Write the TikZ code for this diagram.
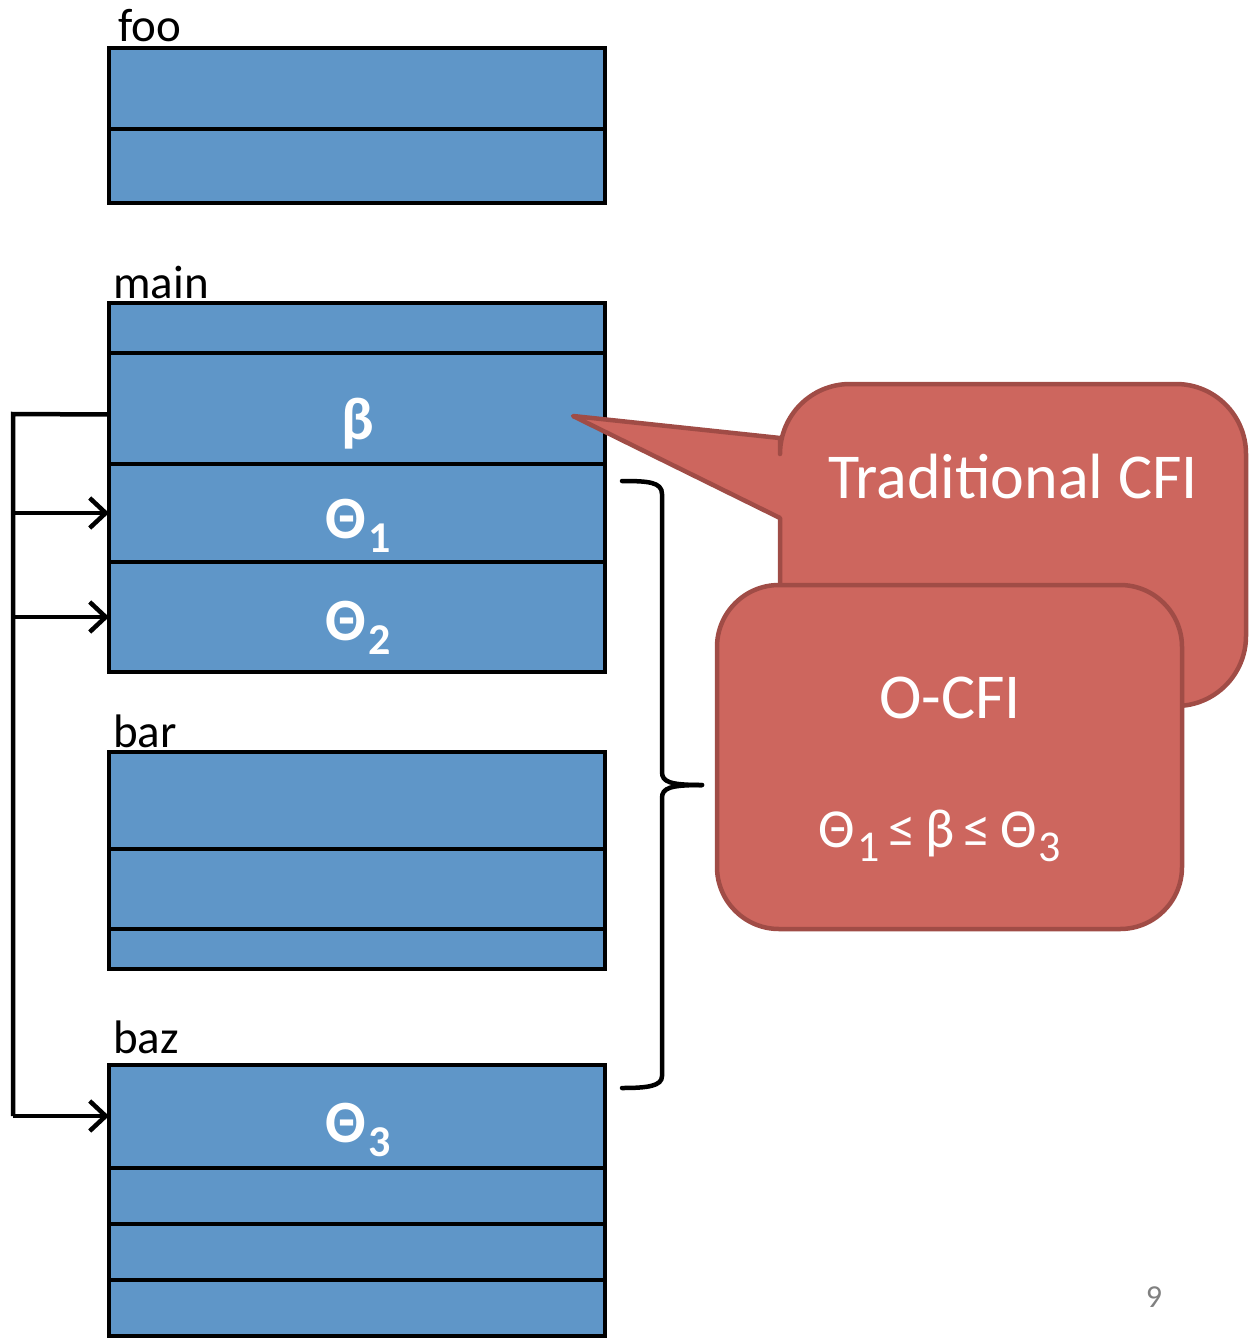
\documentclass[tikz,border=0pt]{standalone}
\usepackage{fontspec}
\setmainfont{Carlito}
\usetikzlibrary{arrows.meta}
\definecolor{cellblue}{RGB}{95,150,200}
\definecolor{bubblered}{RGB}{205,102,94}
\definecolor{bubbleedge}{RGB}{160,76,70}
\definecolor{pagegray}{RGB}{128,128,128}
\newcommand{\lowidx}[3]{\kern2pt\raisebox{-#1}{\fontsize{#2}{#2}\selectfont #3}}
\tikzset{
  cell/.style={draw=black, fill=cellblue, line width=4.5pt, anchor=north west,
    minimum width=496pt, inner sep=0pt, outer sep=0pt},
  fname/.style={anchor=base west, inner sep=0pt, font=\fontsize{47}{54}\selectfont},
  celltext/.style={text=white, inner sep=0pt, font=\fontsize{60}{66}\selectfont\bfseries},
  calltext/.style={text=white, inner sep=0pt, font=\fontsize{64}{72}\selectfont},
  link/.style={line width=4.5pt, line join=miter},
  linkarrow/.style={link, -{Straight Barb[length=16pt,width=30pt]}},
  bubble/.style={fill=bubblered, draw=bubbleedge, line width=4.5pt, line join=round},
}
\begin{document}
\begin{tikzpicture}[x=1pt, y=-1pt]
\useasboundingbox (0,0) rectangle (1257,1338);

% ---- function frames ----
\node[fname] (foolbl) at (118,42) {foo};
\node[cell, minimum height=81pt] (foo1) at (109,48) {};
\node[cell, minimum height=74pt] (foo2) at (109,129) {};

\node[fname] (mainlbl) at (113,298) {main};
\node[cell, minimum height=50pt] (main1) at (109,303) {};
\node[cell, minimum height=111pt] (main2) at (109,353) {};
\node[cell, minimum height=98pt] (main3) at (109,464) {};
\node[cell, minimum height=110pt] (main4) at (109,562) {};

\node[fname] (barlbl) at (113,747) {bar};
\node[cell, minimum height=97pt] (bar1) at (109,752) {};
\node[cell, minimum height=80pt] (bar2) at (109,849) {};
\node[cell, minimum height=40pt] (bar3) at (109,929) {};

\node[fname] (bazlbl) at (113,1053) {baz};
\node[cell, minimum height=103pt] (baz1) at (109,1065) {};
\node[cell, minimum height=56pt] (baz2) at (109,1168) {};
\node[cell, minimum height=56pt] (baz3) at (109,1224) {};
\node[cell, minimum height=56pt] (baz4) at (109,1280) {};

% ---- slot labels ----
\node[celltext] (beta) at (358,424) {β};
\node[celltext, anchor=base] (theta1) at (358,538) {Θ\lowidx{14pt}{44}{1}};
\node[celltext, anchor=base] (theta2) at (358,640) {Θ\lowidx{14pt}{44}{2}};
\node[celltext, anchor=base] (theta3) at (358,1142) {Θ\lowidx{14pt}{44}{3}};

% ---- indirect branch targets ----
\coordinate (railtop) at (13,414);
\coordinate (railbot) at (13,1116);
\draw[link] ([yshift=-6pt]main2.west) -- (railtop) -- (railbot);
\draw[linkarrow] (railtop |- main3.west) -- (main3.west);
\draw[linkarrow] (railtop |- main4.west) -- (main4.west);
\draw[linkarrow] (railbot) -- (railbot -| baz1.west);

% ---- range brace ----
\coordinate (bracetop) at (622,481);
\coordinate (bracetip) at (702,785);
\coordinate (bracebot) at (622,1088);
\draw[line width=4.5pt, line cap=round]
  (bracetop) .. controls (648,481) and (662,482) .. (662,494)
  -- (662,772) .. controls (662,782) and (670,785) .. (bracetip);
\draw[line width=4.5pt, line cap=round]
  (bracetip) .. controls (670,785) and (662,788) .. (662,798)
  -- (662,1076) .. controls (662,1086) and (648,1088) .. (bracebot);

% ---- callout: traditional CFI ----
\coordinate (pointer) at (573,416);
\draw[bubble]
  (pointer) -- (780,438) -- (780,454)
  .. controls (780,415.3) and (811.3,384) .. (850,384)
  -- (1176,384) .. controls (1214.7,384) and (1246,415.3) .. (1246,454)
  -- (1246,636) .. controls (1246,674.7) and (1214.7,706) .. (1176,706)
  -- (850,706) .. controls (811.3,706) and (780,674.7) .. (780,636)
  -- (780,518) -- cycle;
\node[calltext] (trad) at (1013,477) {Traditional CFI};

% ---- callout: O-CFI ----
\node[bubble, rounded corners=62pt, minimum width=465pt, minimum height=344pt,
  inner sep=0pt] (ocfi) at (949.5,757) {};
\node[calltext] (ocfititle) at (950,698) {O-CFI};
\node[text=white, inner sep=0pt, anchor=base, font=\fontsize{55}{60}\selectfont]
  (bounds) at (940,847)
  {Θ\lowidx{14pt}{44}{1}\,≤\,β\,≤\,Θ\lowidx{14pt}{44}{3}};

% ---- slide number ----
\node[text=pagegray, font=\fontsize{32}{36}\selectfont] (pagenum) at (1154,1297) {9};
\end{tikzpicture}
\end{document}
